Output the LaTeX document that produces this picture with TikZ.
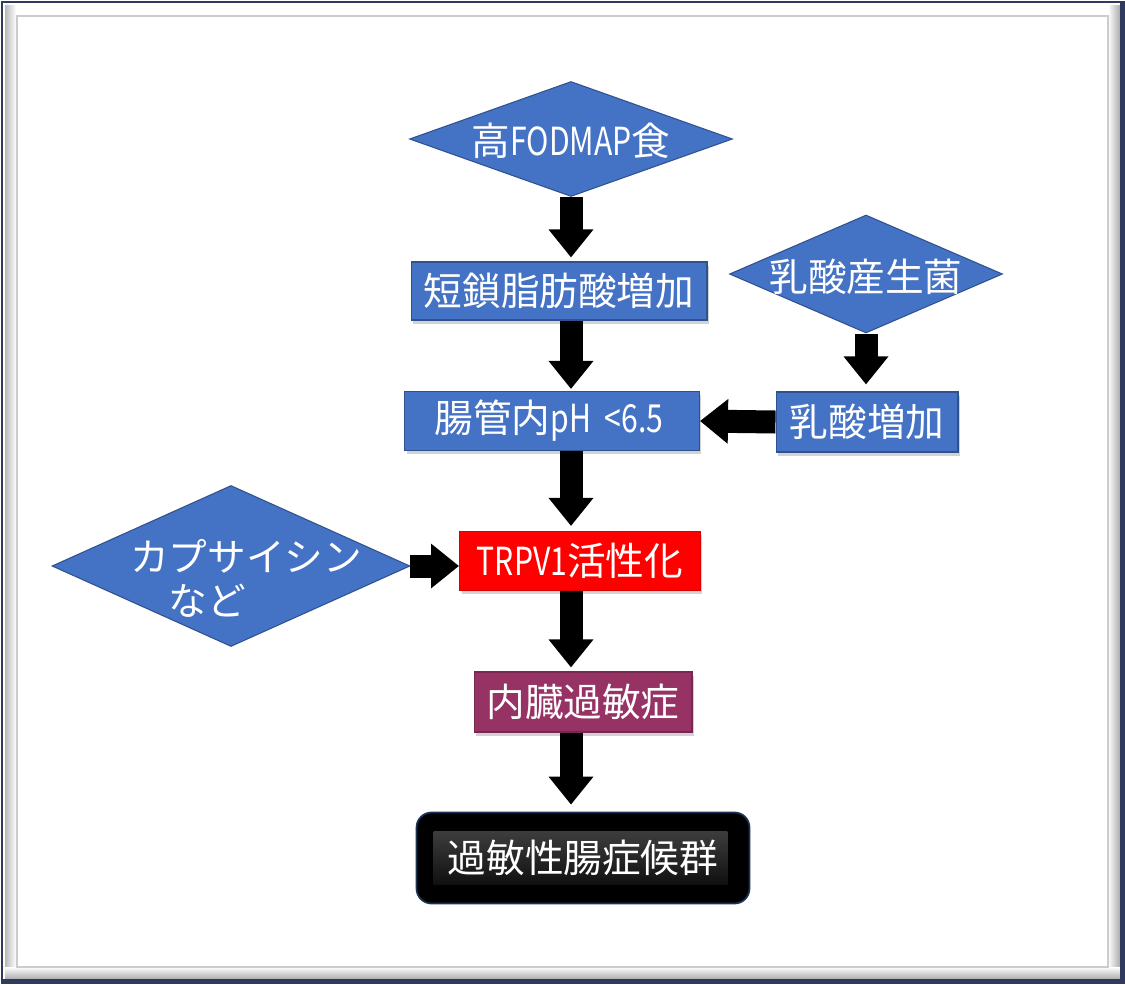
\documentclass[tikz,border=0pt]{standalone}
\usepackage{fontspec}
\setmainfont{Noto Sans CJK JP}
\usetikzlibrary{
    arrows.meta,
    calc,
    shapes.geometric,
    shadows
}
\definecolor{boxblue}{RGB}{68,114,196}
\definecolor{edgeblue}{RGB}{47,82,143}
\definecolor{viscpurple}{RGB}{150,50,100}
\definecolor{framenavy}{RGB}{48,58,92}
\newcommand{\narrowlatin}[1]{\scalebox{0.78}[1]{#1}}

\begin{document}
\begin{tikzpicture}[x=0.02cm,y=-0.02cm,
    labeltext/.style={text=white,font=\fontsize{22}{25}\selectfont},
    flatbox/.style={rectangle,labeltext,inner sep=0pt,line width=0.6pt,
        drop shadow={shadow xshift=0.04cm,shadow yshift=-0.07cm,opacity=0.35}},
    bluebox/.style={flatbox,fill=boxblue,draw=edgeblue},
    bluediamond/.style={diamond,fill=boxblue,draw=edgeblue,line width=0.6pt,inner sep=0pt},
    fatarrow/.style={line width=0.46cm,-{Triangle[length=0.56cm,width=0.86cm]}}
]

% Frame with shadow
\fill[white] (0,0) rectangle (1125,984);
\shade[left color=gray!55,right color=white] (5,5) rectangle (16,979);
\shade[left color=white,right color=gray!65] (1108,5) rectangle (1120,979);
\shade[top color=white,bottom color=gray!65] (5,967) rectangle (1120,979);
\draw[gray!40,line width=0.6pt] (17,16) rectangle (1108,967);
\draw[framenavy,line width=1.7pt] (2,2) rectangle (1123,982);
\draw[framenavy,line width=1.7pt] (1121,2) -- (1121,980) -- (2,980);
\useasboundingbox (0,0) rectangle (1125,984);

% Diet and acids
\node[bluediamond,minimum width=6.46cm,minimum height=2.3cm] (food) at (571,139) {};
\node[labeltext] (foodtext) at (571,141) {高\narrowlatin{FODMAP}食};
\node[bluebox,minimum width=5.92cm,minimum height=1.16cm] (scfa) at (559,291) {短鎖脂肪酸増加};
\node[bluediamond,minimum width=5.46cm,minimum height=2.36cm] (lab) at (866,274) {};
\node[labeltext] (labtext) at (866,277) {乳酸産生菌};
\node[bluebox,minimum width=3.64cm,minimum height=1.2cm] (lactic) at (867,422) {乳酸増加};
\node[bluebox,minimum width=5.9cm,minimum height=1.18cm] (ph) at (552,421) {腸管内\narrowlatin{pH\ \ <6.5}\,};

% Receptor
\node[flatbox,fill=red,draw=red!85!black,minimum width=4.82cm,minimum height=1.18cm] (trpv) at (580,561) {\narrowlatin{TRPV1}活性化};
\node[bluediamond,minimum width=7.16cm,minimum height=3.22cm] (caps) at (231,566) {};
\node[labeltext,align=left] (capstext) at (246,578) {カプサイシン\\\hspace*{1em}など};

% Outcome
\node[flatbox,fill=viscpurple,draw=viscpurple!80!black,minimum width=4.36cm,minimum height=1.2cm] (visc) at (583,702) {内臓過敏症};
\node[rectangle,rounded corners=0.3cm,fill=black,draw=edgeblue!60!black,line width=1pt,
    minimum width=6.66cm,minimum height=1.82cm,labeltext,
    path picture={\shade[sharp corners,top color=black!70,bottom color=black]
        ($(path picture bounding box.north west)+(0.34cm,-0.38cm)$) rectangle
        ($(path picture bounding box.south east)+(-0.44cm,0.38cm)$);}] (ibs) at (583,858) {過敏性腸症候群};

% Arrows
\draw[fatarrow] (food.south) -- ([yshift=0.08cm]food.south |- scfa.north);
\draw[fatarrow] (scfa.south -| food.south) -- ([yshift=0.04cm]ph.north -| food.south);
\draw[fatarrow] (ph.south -| food.south) -- ([yshift=0.1cm]trpv.north -| food.south);
\draw[fatarrow] (trpv.south -| food.south) -- ([yshift=0.08cm]visc.north -| food.south);
\draw[fatarrow] (visc.south -| food.south) -- ([yshift=0.14cm]ibs.north -| food.south);
\draw[fatarrow] (lab.south) -- ([yshift=0.14cm]lactic.north -| lab.south);
\draw[fatarrow] (lactic.west) -- (ph.east);
\draw[fatarrow] (caps.east) -- (caps.east -| trpv.west);

\end{tikzpicture}
\end{document}
